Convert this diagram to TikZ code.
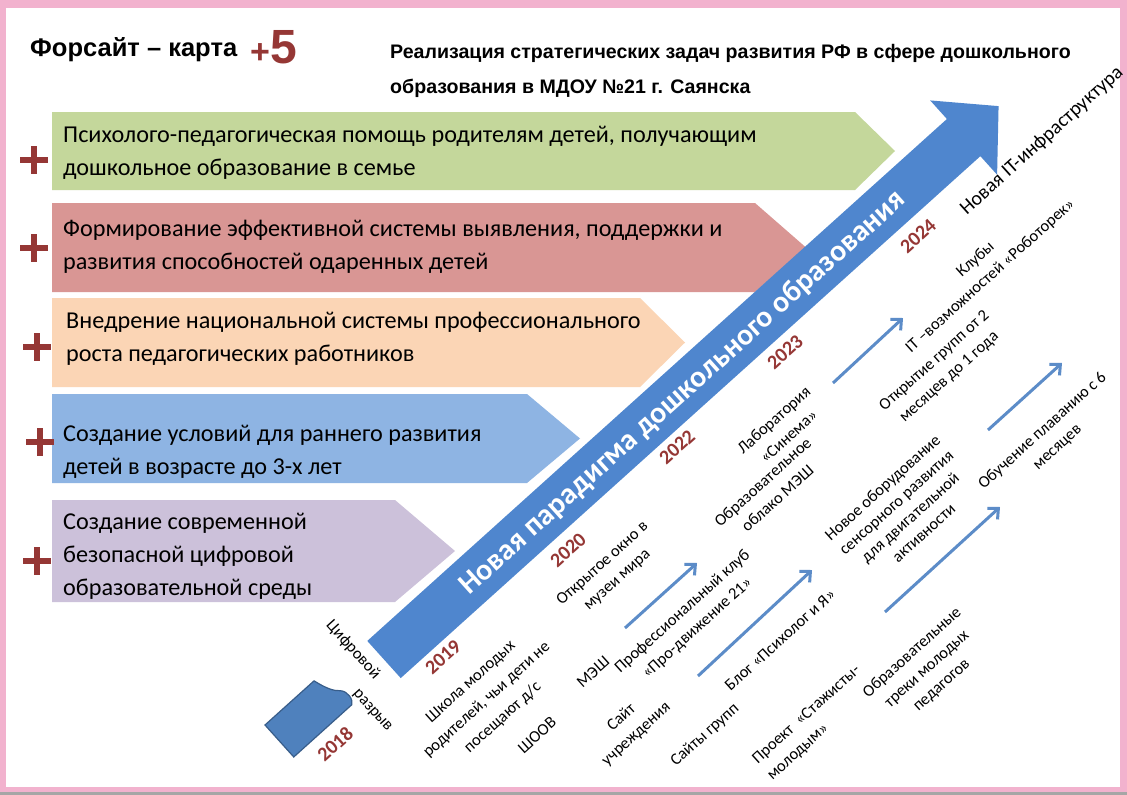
\documentclass[tikz,border=0pt]{standalone}
\usepackage{fontspec}
\setmainfont{Carlito}
\newfontfamily\headfont{Liberation Sans}
\usetikzlibrary{positioning,arrows.meta}

\definecolor{framepink}{RGB}{242,178,206}
\definecolor{plusred}{RGB}{149,55,53}
\definecolor{goalgreen}{RGB}{196,215,155}
\definecolor{goalred}{RGB}{217,150,148}
\definecolor{goalpeach}{RGB}{251,213,181}
\definecolor{goalblue}{RGB}{142,180,227}
\definecolor{goallilac}{RGB}{204,193,218}
\definecolor{bigblue}{RGB}{79,134,206}
\definecolor{thinblue}{RGB}{92,140,200}
\definecolor{gapblue}{RGB}{79,129,189}
\definecolor{gapedge}{RGB}{56,93,138}

\begin{document}
\begin{tikzpicture}[x=1pt,y=-1pt,
    goal/.style={anchor=west, align=left, inner sep=0pt, font=\fontsize{24.2}{33}\selectfont},
    item/.style={rotate=42, align=center, inner sep=0pt, font=\fontsize{16.5}{22}\selectfont},
    year/.style={rotate=42, inner sep=0pt, text=plusred, font=\bfseries\fontsize{20}{24}\selectfont},
    trend/.style={draw=thinblue, line width=3pt, -{Straight Barb[length=8pt,width=15pt]}},
    plusbar/.style={line width=6pt, plusred}]
    \useasboundingbox (0,0) rectangle (1127,795);

    % Рамка
    \fill[framepink] (0,0) rectangle (1127,795);
    \fill[white] (6,8) rectangle (1120,787);
    \fill[gray!70] (0,792) rectangle (1127,795);

    % Заголовок
    \node[anchor=west, inner sep=0pt, font=\headfont\bfseries\fontsize{25.5}{28}\selectfont] (title) at (30,50) {Форсайт – карта};
    \node[anchor=west, inner sep=0pt, text=plusred, font=\headfont\bfseries] (score) at (250,47) {\fontsize{34}{36}\selectfont+\fontsize{48}{48}\selectfont5};
    \node[anchor=west, align=left, inner sep=0pt, font=\headfont\bfseries\fontsize{19.6}{35}\selectfont] (head) at (390,70.5)
        {Реализация стратегических задач развития РФ в сфере дошкольного\\образования в МДОУ №21 г. Саянска};

    % Задачи
    \foreach \ya/\yb/\sh/\tip/\col in {112/190/855/895/goalgreen, 203/292/755/806/goalred,
        298/387/640/685/goalpeach, 394/483/527/580/goalblue, 500/602/395/455/goallilac}
        \fill[\col] (52,\ya) -- (\sh,\ya) -- (\tip,{(\ya+\yb)/2}) -- (\sh,\yb) -- (52,\yb) -- cycle;

    \foreach \px/\py in {34/160, 34/248, 37/347, 40/442, 37/561} {
        \draw[plusbar] (\px-14,\py) -- (\px+14,\py);
        \draw[plusbar] (\px,\py-14) -- (\px,\py+14);
    }

    \node[goal] (g1) at (63,153) {Психолого-педагогическая помощь родителям детей, получающим\\дошкольное образование в семье};
    \node[goal] (g2) at (63,247) {Формирование эффективной системы выявления, поддержки и\\развития способностей одаренных детей};
    \node[goal] (g3) at (66,339) {Внедрение национальной системы профессионального\\роста педагогических работников};
    \node[goal] (g4) at (63,452) {Создание условий для раннего развития\\детей в возрасте до 3-х лет};
    \node[goal] (g5) at (63,556) {Создание современной\\безопасной цифровой\\образовательной среды};

    % Большая стрелка
    \begin{scope}[shift={(384,659.5)}, rotate=42]
        \fill[bigblue] (0,-25) -- (780,-25) -- (780,-50) -- (827,0) -- (780,50) -- (780,25) -- (0,25) -- cycle;
    \end{scope}
    \node[rotate=42, inner sep=0pt, text=white, font=\bfseries\fontsize{30}{32}\selectfont] (paradigm) at (683,393) {Новая парадигма дошкольного образования};

    % Цифровой разрыв
    \begin{scope}[shift={(265,725)}, rotate=42]
        \filldraw[fill=gapblue, draw=gapedge, line width=1.2pt] (0,0) -- (66,0)
            .. controls (70,14) and (74,21) .. (79,25) .. controls (84,30) and (83,40) .. (78,43) -- (0,43) -- cycle;
    \end{scope}
    \node[item, rotate=-90] (cifr) at (353,650) {Цифровой};
    \node[item, rotate=-90] (razryv) at (372,711) {разрыв};

    % Годы
    \node[year] (y2018) at (335,744) {2018};
    \node[year] (y2019) at (443,657) {2019};
    \node[year] (y2020) at (568,550) {2020};
    \node[year] (y2022) at (677,447) {2022};
    \node[year] (y2023) at (785,352) {2023};
    \node[year] (y2024) at (918,236) {2024};

    % Мероприятия
    \node[item, font=\fontsize{16.5}{24}\selectfont] (shkola) at (487,700) {Школа молодых\\родителей, чьи дети не\\посещают д/с};
    \node[item] (shoov) at (537,735) {ШООВ};
    \node[item] (okno) at (610,572) {Открытое окно в\\музеи мира};
    \node[item] (mesh) at (593,672) {МЭШ};
    \node[item] (klub) at (690,620) {Профессиональный клуб\\«Про-движение 21»};
    \node[item] (sait) at (629,726) {Сайт\\учреждения};
    \node[item] (saity) at (705,735) {Сайты групп};
    \node[item] (blog) at (780,640) {Блог «Психолог и Я»};
    \node[item, align=left] (proekt) at (814,723) {Проект\ \ «Стажисты-\\молодым»};
    \node[item] (lab) at (781,428) {Лаборатория\\«Синема»};
    \node[item] (oblako) at (770,490) {Образовательное\\облако МЭШ};
    \node[item, font=\fontsize{16.5}{20.5}\selectfont] (sensor) at (903,510) {Новое оборудование\\сенсорного развития\\для двигательной\\активности};
    \node[item] (treki) at (927,669) {Образовательные\\треки молодых\\педагогов};
    \node[item] (otkr) at (942,369) {Открытие групп от 2\\месяцев до 1 года};
    \node[item] (kluby) at (983,268) {Клубы\\IT –возможностей «Роботорек»};
    \node[item] (plav) at (1050,439) {Обучение плаванию с 6\\месяцев};
    \node[item, font=\fontsize{20}{24}\selectfont] (infra) at (1042,141) {Новая IT-инфраструктура};

    % Тренды
    \coordinate (t1a) at (625,628); \coordinate (t1b) at (697,563);
    \coordinate (t2a) at (698,676); \coordinate (t2b) at (812,570);
    \coordinate (t3a) at (833,383); \coordinate (t3b) at (903,318);
    \coordinate (t4a) at (885,612); \coordinate (t4b) at (1000,507);
    \coordinate (t5a) at (988,430); \coordinate (t5b) at (1062,363);
    \draw[trend] (t1a) -- (t1b);
    \draw[trend] (t2a) -- (t2b);
    \draw[trend] (t3a) -- (t3b);
    \draw[trend] (t4a) -- (t4b);
    \draw[trend] (t5a) -- (t5b);
\end{tikzpicture}
\end{document}
